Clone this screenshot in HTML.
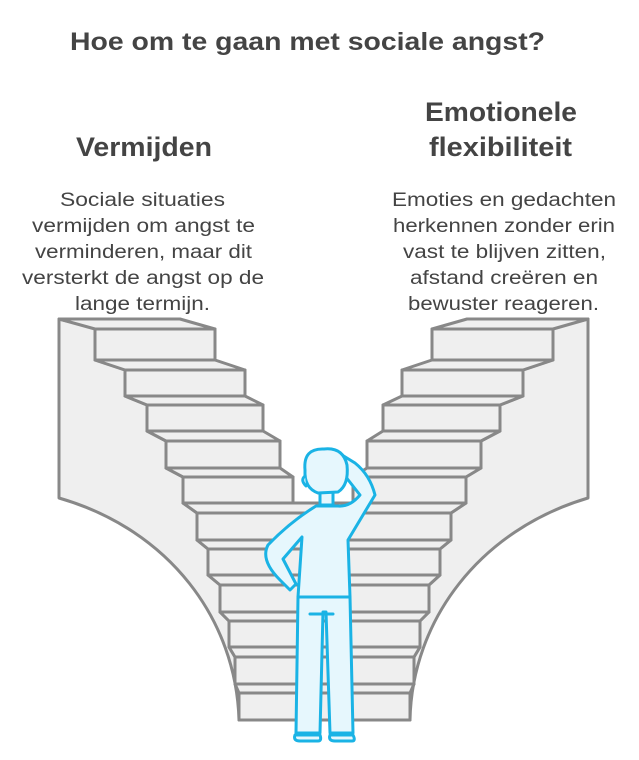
<!DOCTYPE html>
<html><head><meta charset="utf-8"><style>
html,body{margin:0;padding:0;background:#fff;}
svg{display:block;}
text{font-family:"Liberation Sans",sans-serif;fill:#444;}
.h{font-weight:bold;}
</style></head><body>
<svg width="639" height="760" viewBox="0 0 639 760" xmlns="http://www.w3.org/2000/svg">
<text class="h" x="70" y="50" font-size="25" textLength="475" lengthAdjust="spacingAndGlyphs">Hoe om te gaan met sociale angst?</text>
<text class="h" x="76" y="156" font-size="27" textLength="136" lengthAdjust="spacingAndGlyphs">Vermijden</text>
<text class="h" x="425" y="121" font-size="27" textLength="152" lengthAdjust="spacingAndGlyphs">Emotionele</text>
<text class="h" x="429" y="156" font-size="27" textLength="143" lengthAdjust="spacingAndGlyphs">flexibiliteit</text>
<g font-size="19">
<text x="60" y="206" textLength="165" lengthAdjust="spacingAndGlyphs">Sociale situaties</text>
<text x="32" y="232" textLength="223" lengthAdjust="spacingAndGlyphs">vermijden om angst te</text>
<text x="35" y="258" textLength="217" lengthAdjust="spacingAndGlyphs">verminderen, maar dit</text>
<text x="22" y="284" textLength="242" lengthAdjust="spacingAndGlyphs">versterkt de angst op de</text>
<text x="75" y="310" textLength="135" lengthAdjust="spacingAndGlyphs">lange termijn.</text>
<text x="392" y="206" textLength="224" lengthAdjust="spacingAndGlyphs">Emoties en gedachten</text>
<text x="393" y="232" textLength="222" lengthAdjust="spacingAndGlyphs">herkennen zonder erin</text>
<text x="403" y="258" textLength="203" lengthAdjust="spacingAndGlyphs">vast te blijven zitten,</text>
<text x="410" y="284" textLength="188" lengthAdjust="spacingAndGlyphs">afstand creëren en</text>
<text x="408" y="310" textLength="191" lengthAdjust="spacingAndGlyphs">bewuster reageren.</text>
</g>
<g fill="#efefef" stroke="#888" stroke-width="3" stroke-linejoin="round">
<path d="M59,319 L95,328 L95,360 L125,370 L125,396 L147,405 L147,431 L166,441 L166,468 L183,477 L183,503 L197,513 L197,540 L208,549 L208,575 L220,585 L220,612 L229,621 L229,647 L235,657 L235,684 L239,693 L239,720 C236,620 170,530 59,498 Z"/>
<path d="M588,319 L553,328 L553,360 L523,370 L523,396 L500,405 L500,431 L481,441 L481,468 L466,477 L466,503 L451,513 L451,540 L440,549 L440,575 L429,585 L429,612 L420,621 L420,647 L414,657 L414,684 L410,693 L410,720 C412,620 480,530 588,498 Z"/>
<!-- left split rows -->
<polygon points="59,319 180,319 215,329 95,329"/><rect x="95" y="329" width="120" height="31"/>
<polygon points="95,360 215,360 245,370 125,370"/><rect x="125" y="370" width="120" height="26"/>
<polygon points="125,396 245,396 263,405 147,405"/><rect x="147" y="405" width="116" height="26"/>
<polygon points="147,431 263,431 280,441 166,441"/><rect x="166" y="441" width="114" height="27"/>
<polygon points="166,468 280,468 293,477 183,477"/><rect x="183" y="477" width="110" height="26"/>
<!-- right split rows -->
<polygon points="467,319 588,319 553,329 432,329"/><rect x="432" y="329" width="121" height="31"/>
<polygon points="432,360 553,360 523,370 402,370"/><rect x="402" y="370" width="121" height="26"/>
<polygon points="402,396 523,396 500,405 383,405"/><rect x="383" y="405" width="117" height="26"/>
<polygon points="383,431 500,431 481,441 367,441"/><rect x="367" y="441" width="114" height="27"/>
<polygon points="367,468 481,468 466,477 353,477"/><rect x="353" y="477" width="113" height="26"/>
<!-- merged rows -->
<polygon points="183,503 466,503 451,513 197,513"/><rect x="197" y="513" width="254" height="27"/>
<polygon points="197,540 451,540 440,549 208,549"/><rect x="208" y="549" width="232" height="26"/>
<polygon points="208,575 440,575 429,585 220,585"/><rect x="220" y="585" width="209" height="27"/>
<polygon points="220,612 429,612 420,621 229,621"/><rect x="229" y="621" width="191" height="26"/>
<polygon points="229,647 420,647 414,657 235,657"/><rect x="235" y="657" width="179" height="27"/>
<polygon points="235,684 414,684 410,693 239,693"/><rect x="239" y="693" width="171" height="27"/>
</g>
<!-- person -->
<g fill="#e6f7fd" stroke="#1ab3e5" stroke-width="3" stroke-linejoin="round" stroke-linecap="round">
<path d="M298,597 L296,733 L320,733 L323,612 L326,612 L330,733 L353,733 L350,597 Z"/>
<path d="M295,735 Q293,741 300,741 L318,741 Q322,741 320,735 Z"/>
<path d="M330,735 Q328,741 335,741 L352,741 Q356,741 353,735 Z"/>
<path d="M302,537 L298,597 L350,597 L348,540 Q360,520 375,495 Q370,475 355,463 L342,455 Q333,458 338,467 L360,495 Q350,507 338,506 L316,506 Q290,522 268,545 Q260,560 280,580 L290,590 L296,584 L283,559 Z"/>
<path d="M320,492 L320,505 L333,505 L333,492 Z"/>
<path d="M305,470 Q303,448 324,449 Q343,447 347,465 Q349,485 338,492 L318,493 Q304,488 305,470 Z"/>
<path d="M305,476 Q300,480 306,486"/>
<path d="M310,614 L333,614" fill="none"/>
</g>
</svg>
</body></html>
